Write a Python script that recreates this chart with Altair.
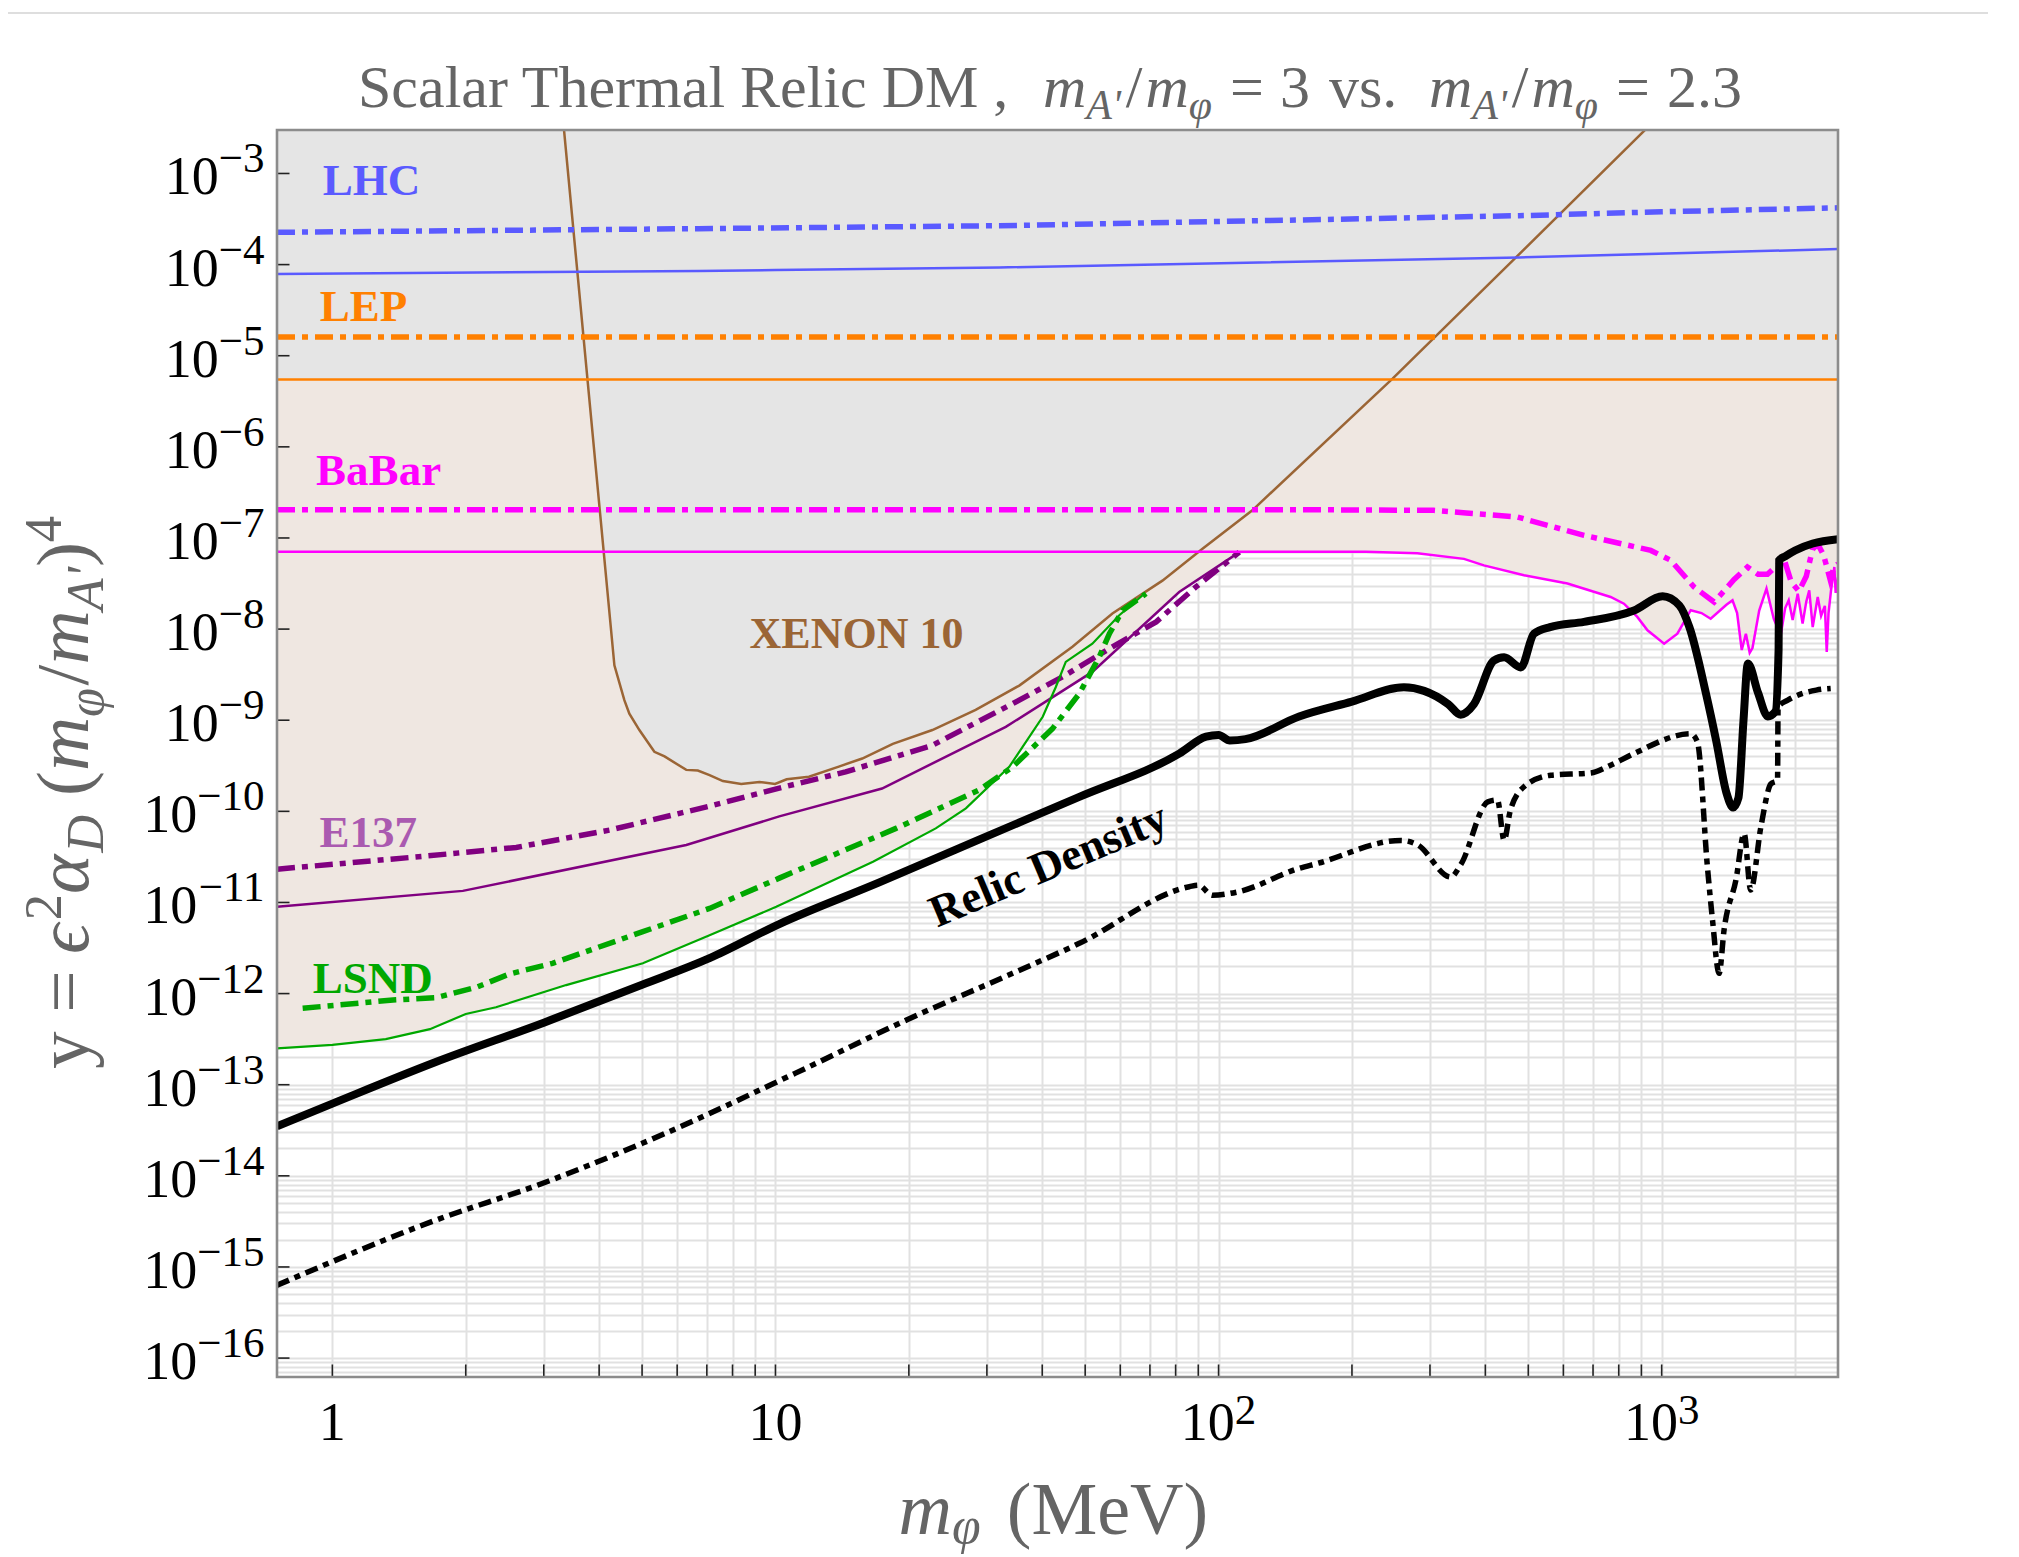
import altair as alt
import pandas as pd

# ---------------- axis ranges ----------------
XMIN, XMAX = 0.75, 2500.0
YMIN, YMAX = 6.2e-17, 3.0e-3

# ---------------- curves (m in MeV, y) ----------------
XENON_M = [3.30, 4.33, 4.56, 4.68, 4.93, 5.33, 5.62, 6.29, 6.68, 7.10, 7.61, 8.37, 9.20, 9.98,
           10.6, 11.9, 13.9, 15.7, 18.4, 22.6, 28.3, 35.5, 46.8, 57.6, 74.7, 92.0, 119.0, 247.0,
           469.0, 1020.0]
XENON_Y = [5.0e-3, 4.0e-9, 1.66e-9, 1.18e-9, 7.8e-10, 4.5e-10, 4.0e-10, 2.85e-10, 2.8e-10, 2.5e-10,
           2.15e-10, 2.0e-10, 2.1e-10, 2.0e-10, 2.25e-10, 2.4e-10, 3.1e-10, 3.8e-10, 5.5e-10, 7.8e-10,
           1.3e-9, 2.4e-9, 6.4e-9, 1.48e-8, 3.4e-8, 7.6e-8, 2.0e-7, 5.6e-6, 1.2e-4, 5.0e-3]

LHC_DD_M = [0.75, 6.7, 32.0, 477.0, 1000.0, 2500.0]
LHC_DD_Y = [2.26e-4, 2.48e-4, 2.67e-4, 3.44e-4, 3.8e-4, 4.2e-4]
LHC_M = [0.75, 6.7, 10.0, 32.0, 477.0, 2500.0]
LHC_Y = [7.9e-5, 8.5e-5, 8.7e-5, 9.3e-5, 1.2e-4, 1.48e-4]

LEP_M = [0.75, 2500.0]
LEP_DD_Y = [1.6e-5, 1.6e-5]
LEP_Y = [5.5e-6, 5.5e-6]

BABAR_DD_M = [0.75, 167.0, 306.0, 362.0, 472.0, 668.0, 945.0, 1048.0, 1183.0, 1313.0, 1457.0,
              1561.0, 1650.0, 1733.0, 1888.0, 1960.0, 2040.0, 2120.0, 2190.0, 2250.0, 2320.0,
              2400.0, 2450.0, 2500.0]
BABAR_DD_Y = [2.04e-7, 2.04e-7, 2.01e-7, 1.88e-7, 1.7e-7, 1.07e-7, 7.3e-8, 5.7e-8, 2.9e-8, 1.98e-8,
              3.5e-8, 4.8e-8, 4.0e-8, 4.0e-8, 5.9e-8, 3.3e-8, 2.6e-8, 3.8e-8, 7.5e-8, 8.6e-8, 6.5e-8,
              3.5e-8, 4.8e-8, 5.2e-8]
BABAR_M = [0.75, 215.0, 281.0, 358.0, 397.0, 489.0, 613.0, 767.0, 822.0, 881.0, 929.0, 1013.0,
           1085.0, 1163.0, 1230.0, 1290.0, 1400.0, 1445.0, 1480.0, 1516.0, 1549.0, 1580.0, 1603.0,
           1660.0, 1724.0, 1790.0, 1856.0, 1900.0, 1935.0, 1975.0, 2028.0, 2080.0, 2120.0, 2153.0,
           2192.0, 2250.0, 2290.0, 2335.0, 2358.0, 2380.0, 2411.0, 2453.0, 2470.0, 2500.0]
BABAR_Y = [7.07e-8, 7.07e-8, 6.8e-8, 5.9e-8, 5.0e-8, 3.9e-8, 3.16e-8, 2.25e-8, 1.9e-8, 1.36e-8,
           9.7e-9, 6.9e-9, 8.9e-9, 1.61e-8, 1.5e-8, 1.3e-8, 1.85e-8, 2.07e-8, 1.5e-8, 5.9e-9, 8.9e-9,
           5.5e-9, 6.2e-9, 1.6e-8, 2.78e-8, 1.3e-8, 8.55e-9, 1.7e-8, 2.07e-8, 1.26e-8, 2.45e-8,
           1.15e-8, 2.0e-8, 2.66e-8, 1.05e-8, 2.25e-8, 1.4e-8, 1.8e-8, 5.6e-9, 1.5e-8, 2.66e-8,
           4.8e-8, 2.5e-8, 3.7e-8]

E137_DD_M = [0.75, 1.055, 1.627, 2.60, 4.22, 7.10, 10.2, 14.4, 22.6, 34.3, 44.5, 57.6, 72.3, 88.9, 111.4]
E137_DD_Y = [2.32e-11, 2.68e-11, 3.23e-11, 4.02e-11, 6.22e-11, 1.14e-10, 1.8e-10, 2.71e-10, 5.3e-10,
             1.52e-9, 3.0e-9, 6.4e-9, 1.2e-8, 2.9e-8, 7.0e-8]
E137_M = [0.75, 1.97, 6.29, 10.2, 17.4, 33.1, 51.9, 81.5, 111.4]
E137_Y = [8.97e-12, 1.34e-11, 4.27e-11, 8.8e-11, 1.78e-10, 8.45e-10, 3.39e-9, 2.55e-8, 7.0e-8]

LSND_DD_M = [0.857, 1.37, 1.71, 2.11, 2.51, 3.14, 5.02, 7.10, 10.2, 18.7, 28.8, 34.3, 42.2, 48.5,
             53.8, 56.7, 60.7, 68.6]
LSND_DD_Y = [6.9e-13, 8.5e-13, 9.0e-13, 1.17e-12, 1.64e-12, 2.15e-12, 4.78e-12, 8.6e-12, 1.85e-11,
             6.5e-11, 1.71e-10, 3.08e-10, 8.1e-10, 1.96e-9, 4.95e-9, 8.9e-9, 1.6e-8, 2.45e-8]
LSND_M = [0.75, 1.0, 1.32, 1.66, 2.0, 2.34, 3.37, 5.02, 7.10, 10.04, 16.6, 23.0, 26.9, 33.7, 40.1,
          42.9, 45.2, 51.9, 59.7, 67.4]
LSND_Y = [2.51e-13, 2.74e-13, 3.16e-13, 4.07e-13, 5.97e-13, 7.08e-13, 1.24e-12, 2.15e-12, 4.37e-12,
          8.97e-12, 2.8e-11, 6.5e-11, 1.08e-10, 3.08e-10, 1.09e-9, 2.3e-9, 4.37e-9, 6.9e-9, 1.42e-8,
          2.35e-8]

RELIC_M = [0.75, 1.0, 1.7, 3.0, 5.0, 7.1, 10.2, 17.1, 28.8, 48.5, 81.5, 93.7, 100.0, 106.0, 115.0,
           152.0, 200.0, 262.0, 291.0, 330.0, 352.0, 377.0, 418.0, 441.0, 481.0, 515.0, 560.0,
           668.0, 866.0, 1005.0, 1096.0, 1155.0, 1259.0, 1327.0, 1400.0, 1450.0, 1490.0, 1530.0,
           1565.0, 1650.0, 1736.0, 1806.0, 1836.0, 1842.0, 1900.0, 2000.0, 2193.0, 2500.0]
RELIC_Y = [3.5e-14, 6.2e-14, 1.75e-13, 4.8e-13, 1.25e-12, 2.45e-12, 5.8e-12, 1.65e-11, 4.9e-11,
           1.44e-10, 4.3e-10, 6.6e-10, 6.9e-10, 6.0e-10, 6.2e-10, 1.1e-9, 1.6e-9, 2.3e-9, 2.1e-9,
           1.5e-9, 1.15e-9, 1.5e-9, 4.5e-9, 4.9e-9, 3.8e-9, 8.9e-9, 1.05e-8, 1.2e-8, 1.6e-8, 2.29e-8,
           1.82e-8, 1.05e-8, 1.96e-9, 6.0e-10, 1.6e-10, 1.1e-10, 1.4e-10, 1.0e-9, 4.2e-9, 2.0e-9,
           1.1e-9, 1.25e-9, 6.0e-9, 5.7e-8, 6.3e-8, 7.3e-8, 8.7e-8, 9.7e-8]

RELIC2_M = [0.75, 1.714, 2.985, 5.02, 11.1, 19.7, 34.3, 48.5, 85.9, 90.0, 96.9, 110.0, 152.0, 167.0,
            258.0, 281.0, 334.0, 352.0, 405.0, 426.0, 441.0, 455.0, 489.0, 562.0, 692.0, 767.0,
            866.0, 1163.0, 1204.0, 1268.0, 1302.0, 1348.0, 1383.0, 1472.0, 1535.0, 1588.0, 1675.0,
            1764.0, 1826.0, 1831.0, 1926.0, 2233.0, 2407.0]
RELIC2_Y = [6.3e-16, 3.27e-15, 8.3e-15, 2.29e-14, 1.34e-13, 5.1e-13, 1.67e-12, 3.56e-12, 1.49e-11,
            1.55e-11, 1.2e-11, 1.3e-11, 2.37e-11, 2.68e-11, 4.8e-11, 4.3e-11, 1.9e-11, 2.6e-11,
            1.27e-10, 1.33e-10, 4.8e-11, 1.0e-10, 1.86e-10, 2.49e-10, 2.64e-10, 3.21e-10, 4.31e-10,
            7.1e-10, 5.8e-10, 2.5e-11, 6.5e-12, 1.67e-12, 5.0e-12, 1.8e-11, 5.7e-11, 1.37e-11,
            6.8e-11, 2.0e-10, 2.2e-10, 1.4e-9, 1.66e-9, 2.14e-9, 2.23e-9]

# crossing of LSND and E137 solid bounds (lower edge of the shaded region)
CROSS_M, CROSS_Y = 41.5, 1.65e-9
BABAR_JOIN_M = 111.4

# labels
LABEL_TEXT = ["LHC", "LEP", "BaBar", "E137", "LSND", "XENON 10"]
LABEL_M = [0.951, 0.936, 0.919, 0.935, 0.903, 8.74]
LABEL_Y = [5.77e-4, 2.43e-5, 3.79e-7, 4.08e-11, 1.007e-12, 6.2e-9]
RELIC_LABEL = "Relic Density"
RELIC_LABEL_M, RELIC_LABEL_Y = 42.5, 1.85e-11

Y_DECADES = list(range(-16, -2))
X_LABEL_VALUES = [1, 10, 100, 1000]
X_TICK_VALUES = [k * 10 ** p for p in range(0, 3) for k in range(1, 10)] + [1000]
X_GRID_VALUES = X_TICK_VALUES + [2000]
Y_GRID_VALUES = [k * 10.0 ** p for p in range(-17, -2) for k in range(1, 10)
                 if YMIN <= k * 10.0 ** p <= YMAX]

# ---------------- styles ----------------
W, H = 1561, 1247
SERIF = "Liberation Serif"
BLUE, ORANGE, MAGENTA = "#5A5AFF", "#FF8000", "#FF00FF"
PURPLE, GREEN, BROWN = "#800080", "#00A800", "#9B6535"
LABEL_COLORS = {"LHC": BLUE, "LEP": ORANGE, "BaBar": MAGENTA, "E137": "#AA5AB0",
                "LSND": GREEN, "XENON 10": BROWN}
GREY_FILL, BEIGE, GRID = "#E5E5E5", "#EFE7E1", "#E1E1E1"
TEXT_GREY = "#656565"
DD = [18, 7, 6, 7]
DD_BLACK = [13, 6, 6, 6]

XS = alt.Scale(type="log", domain=[XMIN, XMAX], nice=False)
YS = alt.Scale(type="log", domain=[YMIN, YMAX], nice=False)
X_AXIS = alt.Axis(values=X_GRID_VALUES, grid=True, gridColor=GRID, gridWidth=2, labels=False,
                  ticks=False, domain=False, title="")
Y_AXIS = alt.Axis(values=Y_GRID_VALUES, grid=True, gridColor=GRID, gridWidth=2, labels=False,
                  ticks=False, domain=False, title="")


def X(f="m"):
    return alt.X(f + ":Q", scale=XS, axis=X_AXIS)


def Y(f="y"):
    return alt.Y(f + ":Q", scale=YS, axis=Y_AXIS)


def table(ms, ys):
    return pd.DataFrame({"m": ms, "y": ys, "i": list(range(len(ms))), "top": [YMAX] * len(ms)})


def line(ms, ys, color, width, dash=None, interp="linear"):
    kw = dict(color=color, strokeWidth=width, clip=True, interpolate=interp)
    if dash:
        kw["strokeDash"] = dash
    return alt.Chart(table(ms, ys)).mark_line(**kw).encode(x=X(), y=Y(), order="i:Q")


def area(ms, ys, color):
    return alt.Chart(table(ms, ys)).mark_area(fill=color, opacity=1, clip=True).encode(
        x=X(), y=Y(), y2=alt.Y2("top"))


ONE = pd.DataFrame({"k": [0]})


def txt(s, x, y, size, color, italic=False, bold=False, angle=0, align="left"):
    kw = dict(font=SERIF, fontSize=size, color=color, align=align, baseline="alphabetic")
    if italic:
        kw["fontStyle"] = "italic"
    if bold:
        kw["fontWeight"] = "bold"
    if angle:
        kw["angle"] = angle
    return alt.Chart(ONE).mark_text(**kw).encode(x=alt.value(x), y=alt.value(y),
                                                  text=alt.value(s))


ROMAN = {' ': .25, ',': .25, '.': .25, '=': .564, '/': .278, '(': .333, ')': .333, "'": .18,
         'S': .556, 'c': .444, 'a': .444, 'l': .278, 'r': .333, 'T': .611, 'h': .5, 'e': .444,
         'm': .778, 'R': .667, 'i': .278, 'D': .722, 'M': .889, 'v': .5, 's': .389, 'y': .5,
         'V': .722}
ITALIC = {'m': .722, 'A': .611, "'": .214, 'D': .722, 'φ': .6, 'ϵ': .45, 'α': .55}


def width(s, italic, size):
    tab = ITALIC if italic else ROMAN
    return sum(tab.get(c, .5) for c in s) * size


def runs(parts, x0, y0, F, color, rotated=False, sub_shift=0.2):
    """parts: (text, italic, level, gap_in_em). Leading spaces are given as gaps
    because SVG collapses them."""
    out = []
    pos = 0.0
    S = 0.7 * F
    for text, italic, level, gap in parts:
        pos += gap * F
        size = F if level == "base" else S
        shift = {"base": 0.0, "sub": sub_shift * F, "sup": -0.36 * F}[level]
        if rotated:
            out.append(txt(text, x0 + shift, y0 - pos, size, color, italic=italic, angle=270))
        else:
            out.append(txt(text, x0 + pos, y0 + shift, size, color, italic=italic))
        pos += width(text, italic, size)
    return out


layers = []

# ---- shaded regions ----
env = [(m, y) for m, y in zip(LSND_M, LSND_Y) if m < CROSS_M] + [(CROSS_M, CROSS_Y)]
env += [(m, y) for m, y in zip(E137_M, E137_Y) if CROSS_M < m <= BABAR_JOIN_M]
env += [(m, y) for m, y in zip(BABAR_M, BABAR_Y) if m > BABAR_JOIN_M]
layers.append(area([p[0] for p in env], [p[1] for p in env], BEIGE))
layers.append(area(LEP_M, LEP_Y, GREY_FILL))
layers.append(area(XENON_M, XENON_Y, GREY_FILL))

# ---- curves ----
layers += [
    line(XENON_M, XENON_Y, BROWN, 2.5),
    line(LHC_M, LHC_Y, BLUE, 2.5),
    line(LHC_DD_M, LHC_DD_Y, BLUE, 5.5, DD),
    line(LEP_M, LEP_Y, ORANGE, 2.5),
    line(LEP_M, LEP_DD_Y, ORANGE, 5.5, DD),
    line(E137_M, E137_Y, PURPLE, 2.5),
    line(E137_DD_M, E137_DD_Y, PURPLE, 5.5, DD),
    line(LSND_M, LSND_Y, GREEN, 2.2),
    line(LSND_DD_M, LSND_DD_Y, GREEN, 5.5, DD),
    line(BABAR_M, BABAR_Y, MAGENTA, 2.5),
    line(BABAR_DD_M, BABAR_DD_Y, MAGENTA, 5.5, DD),
    line(RELIC2_M, RELIC2_Y, "black", 5.5, DD_BLACK, "monotone"),
    line(RELIC_M, RELIC_Y, "black", 8, None, "monotone"),
]

# ---- ticks ----
ydec = pd.DataFrame({"y": [10.0 ** d for d in Y_DECADES]})
layers.append(alt.Chart(ydec).mark_rule(color="#222222", strokeWidth=1.6).encode(
    y=Y(), x=alt.value(0), x2=alt.value(12.5)))
xt = pd.DataFrame({"m": X_TICK_VALUES})
layers.append(alt.Chart(xt).mark_rule(color="#222222", strokeWidth=1.6).encode(
    x=X(), y=alt.value(H - 12.5), y2=alt.value(H)))

# ---- frame ----
layers.append(alt.Chart(ONE).mark_rect(fillOpacity=0, stroke="#8C8C8C", strokeWidth=2.6).encode(
    x=alt.value(0), x2=alt.value(W), y=alt.value(0), y2=alt.value(H)))

# ---- y tick labels ----
BASE_F, EXP_F = 54, 43
EXP_RIGHT = -12.5
ylab = pd.DataFrame({"y": [10.0 ** d for d in Y_DECADES],
                     "exp": ["\u2212" + str(-d) for d in Y_DECADES],
                     "nd": [len(str(-d)) for d in Y_DECADES]})
for nd in (1, 2):
    sub = ylab[ylab["nd"] == nd]
    wexp = (0.564 + 0.5 * nd) * EXP_F
    layers.append(alt.Chart(sub).mark_text(font=SERIF, fontSize=BASE_F, align="right",
                                           baseline="alphabetic", dy=21, color="black").encode(
        y=Y(), x=alt.value(EXP_RIGHT - wexp), text=alt.value("10")))
    layers.append(alt.Chart(sub).mark_text(font=SERIF, fontSize=EXP_F, align="right",
                                           baseline="alphabetic", dy=-1, color="black").encode(
        y=Y(), x=alt.value(EXP_RIGHT), text="exp:N"))

# ---- x tick labels ----
XL_BASE = H + 63
plain = pd.DataFrame({"m": [v for v in X_LABEL_VALUES if v <= 10],
                      "t": [str(v) for v in X_LABEL_VALUES if v <= 10]})
layers.append(alt.Chart(plain).mark_text(font=SERIF, fontSize=BASE_F, align="center",
                                         baseline="alphabetic", color="black").encode(
    x=X(), y=alt.value(XL_BASE), text="t:N"))
powv = [v for v in X_LABEL_VALUES if v > 10]
powers = pd.DataFrame({"m": powv, "e": [str(len(str(v)) - 1) for v in powv]})
wb, we = 1.0 * BASE_F, 0.5 * EXP_F
shift = (wb + we) / 2 - we
layers.append(alt.Chart(powers).mark_text(font=SERIF, fontSize=BASE_F, align="right",
                                          baseline="alphabetic", dx=shift, color="black").encode(
    x=X(), y=alt.value(XL_BASE), text=alt.value("10")))
layers.append(alt.Chart(powers).mark_text(font=SERIF, fontSize=EXP_F, align="left",
                                          baseline="alphabetic", dx=shift, color="black").encode(
    x=X(), y=alt.value(XL_BASE - 16), text="e:N"))

# ---- curve labels ----
for t, m, y in zip(LABEL_TEXT, LABEL_M, LABEL_Y):
    d = pd.DataFrame({"m": [m], "y": [y], "t": [t]})
    size = 44 if t == "XENON 10" else 45
    layers.append(alt.Chart(d).mark_text(font=SERIF, fontSize=size, fontWeight="bold",
                                         align="left", baseline="alphabetic",
                                         color=LABEL_COLORS[t]).encode(x=X(), y=Y(), text="t:N"))
d = pd.DataFrame({"m": [RELIC_LABEL_M], "y": [RELIC_LABEL_Y], "t": [RELIC_LABEL]})
layers.append(alt.Chart(d).mark_text(font=SERIF, fontSize=45, fontWeight="bold", align="center",
                                     baseline="alphabetic", angle=337, color="black").encode(
    x=X(), y=Y(), text="t:N"))

# ---- title ----
TF, TY = 60, -22.7
ratio = [("m", True, "base", 0), ("A'", True, "sub", 0), ("/", False, "base", 0.08),
         ("m", True, "base", 0.05), ("φ", True, "sub", 0)]
layers.append(txt("Scalar Thermal Relic DM ,", 81, TY, TF, TEXT_GREY))
layers += runs(ratio, 766, TY, TF, TEXT_GREY)
layers.append(txt("=", 953, TY, TF, TEXT_GREY))
layers.append(txt("3", 1003, TY, TF, TEXT_GREY))
layers.append(txt("vs.", 1052, TY, TF, TEXT_GREY))
layers += runs(ratio, 1152, TY, TF, TEXT_GREY)
layers.append(txt("=", 1339, TY, TF, TEXT_GREY))
layers.append(txt("2.3", 1390, TY, TF, TEXT_GREY))

# ---- axis titles ----
x_parts = [("m", True, "base", 0), ("φ", True, "sub", 0), ("(MeV)", False, "base", 0.32)]
layers += runs(x_parts, 621.6, 1404, 74, TEXT_GREY, sub_shift=0.12)
y_parts = [("y =", False, "base", 0), ("ϵ", True, "base", 0.22), ("2", False, "sup", 0),
           ("α", True, "base", 0), ("D", True, "sub", 0), ("(", False, "base", 0.25),
           ("m", True, "base", 0), ("φ", True, "sub", 0), ("/", False, "base", 0),
           ("m", True, "base", 0), ("A'", True, "sub", 0), (")", False, "base", 0),
           ("4", False, "sup", 0)]
layers += runs(y_parts, -189, 939, 75, TEXT_GREY, rotated=True)

# faint page rule at the very top
layers.append(alt.Chart(ONE).mark_rule(color="#DEDEDE", strokeWidth=2).encode(
    x=alt.value(-269), x2=alt.value(W + 150), y=alt.value(-117)))

chart = alt.layer(*layers).properties(
    width=W, height=H,
    autosize=alt.AutoSizeParams(type="none"),
    padding={"left": 269, "top": 122, "right": 150, "bottom": 178},
).configure_view(stroke=None)

chart.save("out.html", embed_options={"renderer": "svg", "actions": False})
